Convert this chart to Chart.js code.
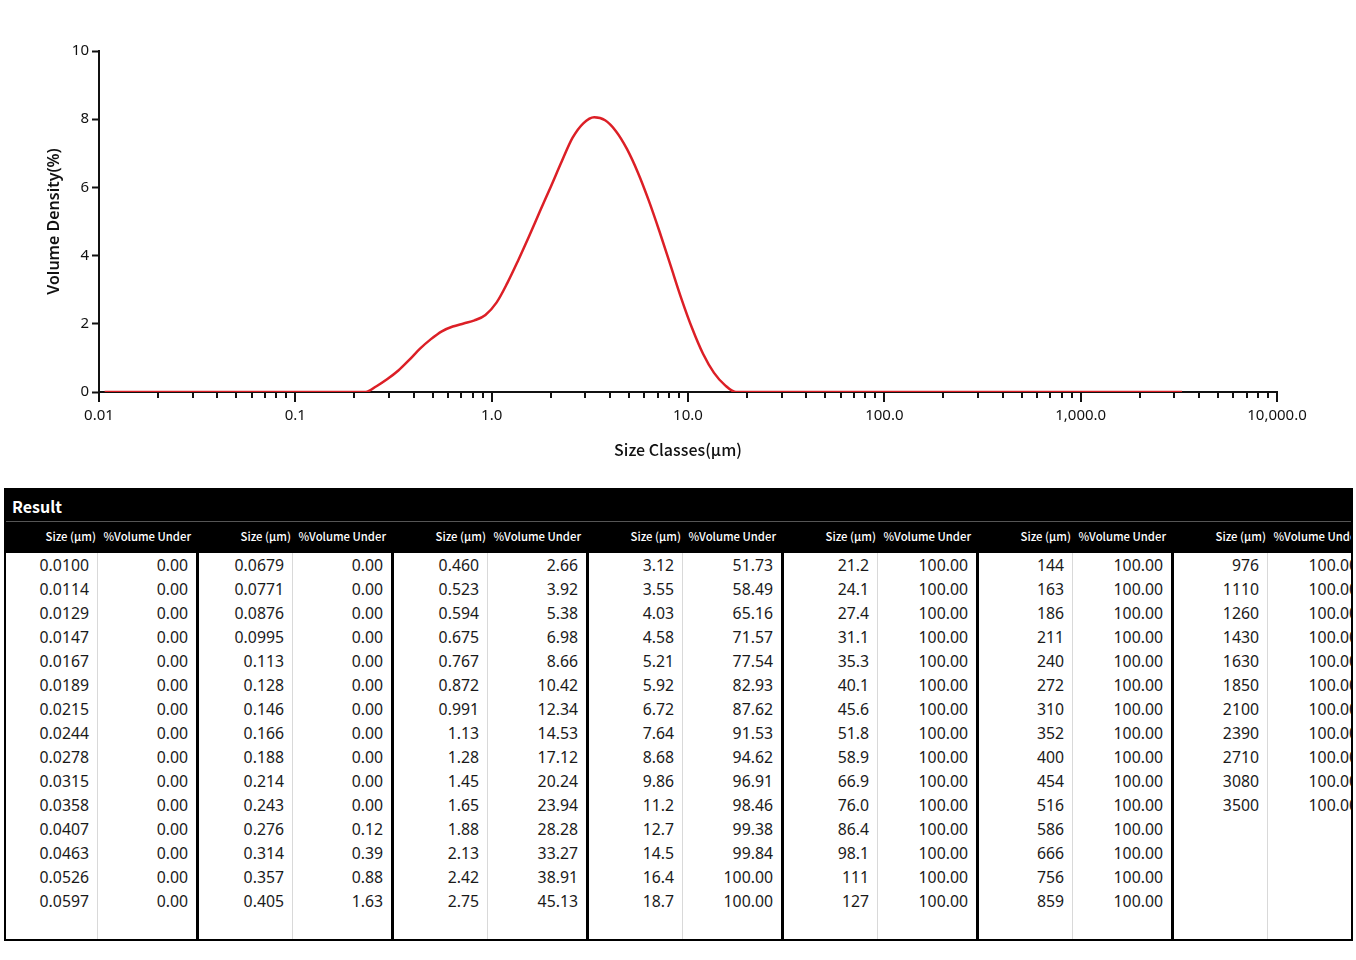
<!DOCTYPE html>
<html>
<head>
<meta charset="utf-8">
<title>Particle Size Distribution</title>
<script src="https://cdn.jsdelivr.net/npm/chart.js@4.4.1/dist/chart.umd.min.js"></script>
<style>
    body { margin: 0; background: #fff; width: 1356px; height: 960px; overflow: hidden; font-family: 'Noto Sans', sans-serif; }
    #chartWrap { position: absolute; left: 0; top: 0; width: 1356px; height: 470px; }
    #resultBox { position: absolute; left: 4px; top: 488px; width: 1349px; height: 453px; box-sizing: border-box; border: 2px solid #000; overflow: hidden; background: #fff; }
    .result-title { height: 31px; background: #000; color: #fff; font: bold 16px 'Noto Sans CJK SC', sans-serif; line-height: 32px; padding-left: 6px; border-bottom: 1px solid #555; }
    .result-grid { display: grid; grid-template-columns: 92px 101px repeat(6, 94px 101px); grid-template-rows: 31px repeat(15, 24px) 1fr; height: calc(100% - 32px); width: 1363px; }
    .hd { background: #000; color: #fff; font: 500 11.3px 'Noto Sans CJK SC', sans-serif; text-align: right; line-height: 28px; white-space: nowrap; box-sizing: border-box; }
    .hd.sz { padding-right: 2px; }
    .hd.vol { padding-right: 8px; }
    .cell { font: 15.8px 'Noto Sans', sans-serif; color: #1a1a1a; text-align: right; line-height: 25px; box-sizing: border-box; white-space: nowrap; }
    .cell.sz { padding-right: 8px; border-right: 1px solid #d9d9d9; }
    .cell.vol { padding-right: 8px; border-right: 3px solid #000; }
</style>
</head>
<body>
<div id="chartWrap"><canvas id="psdChart"></canvas></div>
<div id="resultBox">
    <div class="result-title">Result</div>
    <div class="result-grid" id="resultGrid"></div>
</div>
<script>
// Size classes (um) as printed in the result table
const sizeClasses = [
    '0.0100', '0.0114', '0.0129', '0.0147', '0.0167', '0.0189', '0.0215', '0.0244', '0.0278', '0.0315', '0.0358', '0.0407', '0.0463', '0.0526', '0.0597',
    '0.0679', '0.0771', '0.0876', '0.0995', '0.113', '0.128', '0.146', '0.166', '0.188', '0.214', '0.243', '0.276', '0.314', '0.357', '0.405',
    '0.460', '0.523', '0.594', '0.675', '0.767', '0.872', '0.991', '1.13', '1.28', '1.45', '1.65', '1.88', '2.13', '2.42', '2.75',
    '3.12', '3.55', '4.03', '4.58', '5.21', '5.92', '6.72', '7.64', '8.68', '9.86', '11.2', '12.7', '14.5', '16.4', '18.7',
    '21.2', '24.1', '27.4', '31.1', '35.3', '40.1', '45.6', '51.8', '58.9', '66.9', '76.0', '86.4', '98.1', '111', '127',
    '144', '163', '186', '211', '240', '272', '310', '352', '400', '454', '516', '586', '666', '756', '859',
    '976', '1110', '1260', '1430', '1630', '1850', '2100', '2390', '2710', '3080', '3500'
];

// %Volume Under for each size class
const volumeUnder = [
    0, 0, 0, 0, 0, 0, 0, 0, 0, 0, 0, 0, 0, 0, 0,
    0, 0, 0, 0, 0, 0, 0, 0, 0, 0, 0, 0.12, 0.39, 0.88, 1.63,
    2.66, 3.92, 5.38, 6.98, 8.66, 10.42, 12.34, 14.53, 17.12, 20.24, 23.94, 28.28, 33.27, 38.91, 45.13,
    51.73, 58.49, 65.16, 71.57, 77.54, 82.93, 87.62, 91.53, 94.62, 96.91, 98.46, 99.38, 99.84, 100, 100,
    100, 100, 100, 100, 100, 100, 100, 100, 100, 100, 100, 100, 100, 100, 100,
    100, 100, 100, 100, 100, 100, 100, 100, 100, 100, 100, 100, 100, 100, 100,
    100, 100, 100, 100, 100, 100, 100, 100, 100, 100, 100
];

// Volume density (%) per class interval
const volumeDensity = [
    0, 0, 0, 0, 0, 0, 0, 0, 0, 0, 0, 0, 0, 0, 0, 0, 0, 0, 0, 0, 0, 0, 0, 0, 0,
    0.17, 0.38, 0.63, 0.94, 1.27, 1.55, 1.78, 1.92, 2.01, 2.10, 2.26, 2.62, 3.20, 3.85, 4.55,
    5.30, 6.02, 6.75, 7.45, 7.88, 8.06, 7.97, 7.65, 7.13, 6.44, 5.62, 4.70, 3.72, 2.74, 1.86,
    1.12, 0.56, 0.20, 0,
    0, 0, 0, 0, 0, 0, 0, 0, 0, 0, 0, 0, 0, 0, 0, 0, 0, 0, 0, 0,
    0, 0, 0, 0, 0, 0, 0, 0, 0, 0, 0, 0, 0, 0, 0, 0, 0, 0, 0, 0, 0
];

// Axis ticks
const decadeValues = [0.01, 0.1, 1, 10, 100, 1000, 10000];
const decadeLabels = ['0.01', '0.1', '1.0', '10.0', '100.0', '1,000.0', '10,000.0'];
const yTickValues = [0, 2, 4, 6, 8, 10];

// Major + minor log ticks (1..9 per decade)
const xTickValues = [];
decadeValues.forEach((d, i) => {
    xTickValues.push(d);
    if (i < decadeValues.length - 1) {
        for (let m = 2; m <= 9; m++) xTickValues.push(m * d);
    }
});

// Curve points sit at the middle of each class (geometric mean)
const curvePoints = volumeDensity.map((v, i) => ({
    x: Math.sqrt(parseFloat(sizeClasses[i]) * parseFloat(sizeClasses[i + 1])),
    y: v
}));

// Tick marks: long at decades, short in between
const xTickMarks = {
    id: 'xTickMarks',
    afterDraw(chart) {
        const s = chart.scales.x;
        const c = chart.ctx;
        c.save();
        c.strokeStyle = '#111';
        c.lineWidth = 2;
        s.ticks.forEach(t => {
            const px = Math.round(s.getPixelForValue(t.value));
            const len = decadeValues.includes(t.value) ? 10 : 6;
            c.beginPath();
            c.moveTo(px, s.top);
            c.lineTo(px, s.top + len);
            c.stroke();
        });
        c.restore();
    }
};

new Chart(document.getElementById('psdChart'), {
    type: 'line',
    data: {
        datasets: [{
            data: curvePoints,
            borderColor: '#dc1f26',
            borderWidth: 2.5,
            pointRadius: 0,
            fill: false,
            cubicInterpolationMode: 'monotone'
        }]
    },
    options: {
        responsive: true,
        maintainAspectRatio: false,
        animation: false,
        layout: { padding: { left: 0, right: 0, top: 51, bottom: 0 } },
        plugins: {
            legend: { display: false },
            tooltip: { enabled: false },
            title: {
                display: true,
                position: 'bottom',
                text: 'Size Classes(\u03bcm)',
                color: '#111',
                font: { family: 'Noto Sans CJK SC', size: 16, weight: '500' },
                padding: { top: 10, bottom: 10 }
            }
        },
        scales: {
            x: {
                type: 'logarithmic',
                min: 0.01,
                max: 10000,
                afterBuildTicks: (scale) => { scale.ticks = xTickValues.map(v => ({ value: v })); },
                afterFit: (scale) => { scale.height = 38.8; },
                grid: { drawOnChartArea: false, tickLength: 10, tickColor: 'rgba(0,0,0,0)' },
                border: { color: '#111', width: 2 },
                ticks: {
                    autoSkip: false,
                    maxRotation: 0,
                    padding: 5,
                    color: '#111',
                    font: { family: 'Noto Sans', size: 15 },
                    callback: function (value) {
                        const k = decadeValues.indexOf(value);
                        return k >= 0 ? decadeLabels[k] : '';
                    }
                }
            },
            y: {
                min: 0,
                max: 10,
                afterBuildTicks: (scale) => { scale.ticks = yTickValues.map(v => ({ value: v })); },
                afterFit: (scale) => { scale.width = 99; },
                grid: { drawOnChartArea: false, tickLength: 7, tickColor: '#111', tickWidth: 2 },
                border: { color: '#111', width: 2 },
                ticks: {
                    padding: 3,
                    color: '#111',
                    font: { family: 'Noto Sans', size: 15 },
                    callback: (value) => String(value)
                },
                title: {
                    display: true,
                    text: 'Volume Density(%)',
                    color: '#111',
                    font: { family: 'Noto Sans', size: 16, weight: '600' },
                    padding: { top: 45, bottom: 0 }
                }
            },
            // empty right gutter so the bottom title centres on the page
            yRight: {
                position: 'right',
                display: true,
                afterFit: (scale) => { scale.width = 79; },
                grid: { display: false },
                border: { display: false },
                ticks: { display: false }
            }
        }
    },
    plugins: [xTickMarks]
});

// Result table: 7 column groups of 15 rows
function buildResultTable() {
    const grid = document.getElementById('resultGrid');
    const groups = 7, rows = 15;

    const add = (cls, text) => {
        const d = document.createElement('div');
        d.className = cls;
        d.textContent = text;
        grid.appendChild(d);
    };

    for (let g = 0; g < groups; g++) {
        add('hd sz', 'Size (\u03bcm)');
        add('hd vol', '%Volume Under');
    }
    for (let r = 0; r <= rows; r++) {
        for (let g = 0; g < groups; g++) {
            const i = g * rows + r;
            const has = r < rows && i < sizeClasses.length;
            add('cell sz', has ? sizeClasses[i] : '');
            add('cell vol', has ? volumeUnder[i].toFixed(2) : '');
        }
    }
}

buildResultTable();
</script>
</body>
</html>
